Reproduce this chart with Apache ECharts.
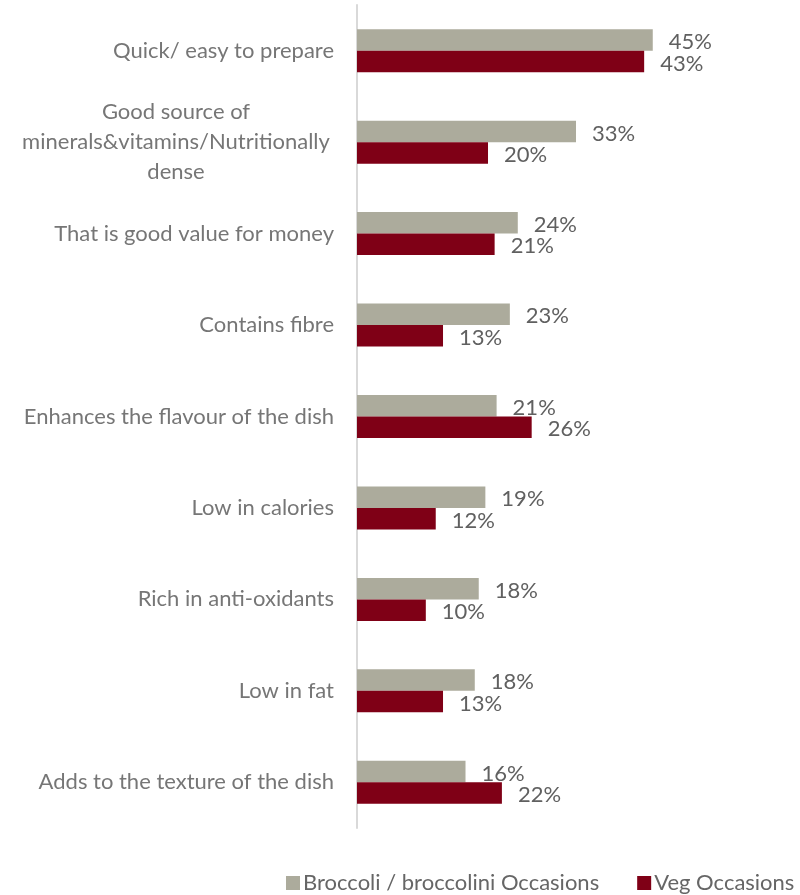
<!DOCTYPE html>
<html>
<head>
<meta charset="utf-8">
<script src="https://cdn.jsdelivr.net/npm/echarts@6/dist/echarts.min.js"></script>
<style>html,body{margin:0;padding:0;background:#fff}#c{width:800px;height:895px}</style>
</head>
<body>
<div id="c"></div>
<script>
const categories = [
  "Quick/ easy to prepare",
  "Good source of\nminerals&vitamins/Nutritionally\ndense",
  "That is good value for money",
  "Contains fibre",
  "Enhances the flavour of the dish",
  "Low in calories",
  "Rich in anti-oxidants",
  "Low in fat",
  "Adds to the texture of the dish"
];
const seriesNames = ["Broccoli / broccolini Occasions", "Veg Occasions"];
const broccoli = [44.7, 33.1, 24.3, 23.1, 21.1, 19.4, 18.4, 17.8, 16.4];
const veg = [43.4, 19.8, 20.8, 13.0, 26.4, 11.9, 10.4, 13.0, 21.9];
const colors = ["#acab9c", "#7f0016"];

const FONT = "Lato";
const chart = echarts.init(document.getElementById('c'));
const labelStyle = {
  show: true, position: 'right', distance: 16,
  formatter: p => Math.round(p.value) + '%',
  color: '#606060', fontFamily: FONT, fontSize: 22, offset: [0, 2]
};
chart.setOption({
  animation: false,
  grid: { left: 357, top: 5, width: 397, height: 823, containLabel: false },
  xAxis: { type: 'value', min: 0, max: 60, show: false },
  yAxis: {
    type: 'category', data: categories, inverse: true,
    axisLine: { show: true, lineStyle: { color: '#d9d9d9', width: 2 } },
    axisTick: { show: false },
    axisLabel: {
      margin: 23, color: '#767676', fontFamily: FONT, fontSize: 22, align: 'right',
      lineHeight: 30,
      formatter: v => v.indexOf('\n') >= 0 ? v.split('\n').map(s => '{c|' + s + '}').join('\n') : v,
      rich: { c: { width: 316, align: 'center', color: '#767676', fontFamily: FONT, fontSize: 22, lineHeight: 30 } }
    }
  },
  legend: {
    left: 281, top: 867, itemWidth: 14, itemHeight: 14, itemGap: 38, icon: 'rect',
    textStyle: { color: '#666666', fontFamily: FONT, fontSize: 22, lineHeight: 22, padding: [0, 0, 0, -2] },
    data: seriesNames
  },
  series: [
    { name: seriesNames[0], type: 'bar', data: broccoli, barWidth: 21.5, barGap: '0%',
      itemStyle: { color: colors[0] }, label: labelStyle },
    { name: seriesNames[1], type: 'bar', data: veg, barWidth: 21.5, barGap: '0%',
      itemStyle: { color: colors[1] }, label: labelStyle }
  ]
});
</script>
</body>
</html>
